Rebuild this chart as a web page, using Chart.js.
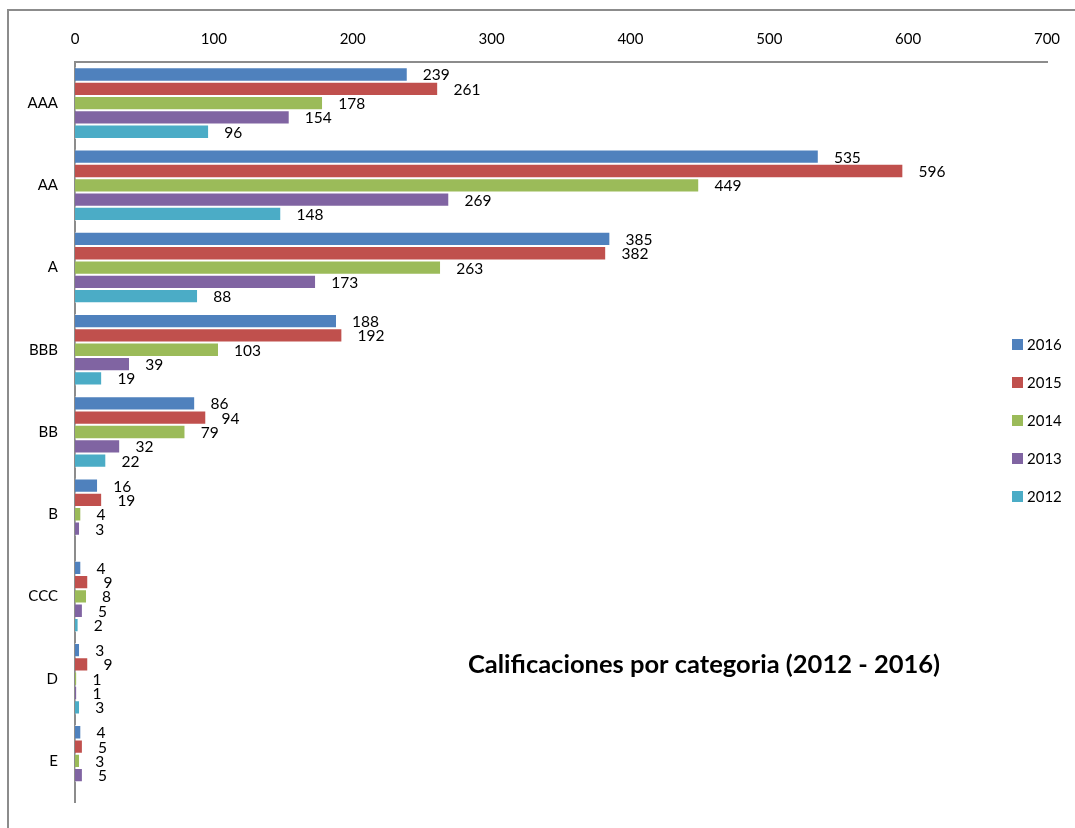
<!DOCTYPE html>
<html>
<head>
<meta charset="utf-8">
<script src="https://cdn.jsdelivr.net/npm/chart.js@4/dist/chart.umd.min.js"></script>
<style>
  html, body { margin: 0; padding: 0; background: #fff; overflow: hidden; }
  #frame {
    position: absolute; left: 7px; top: 9px; width: 1100px; height: 840px;
    border-left: 2px solid #8c8c8c; border-top: 2px solid #8c8c8c;
  }
  #wrap { position: absolute; left: 0; top: 0; width: 1075px; height: 828px; }
</style>
</head>
<body>
<div id="frame"></div>
<div id="wrap"><canvas id="ratingsChart" width="1075" height="828"></canvas></div>
<script>
/* ===== DATA ===== */
const categories = ['AAA', 'AA', 'A', 'BBB', 'BB', 'B', 'CCC', 'D', 'E'];
const years = ['2016', '2015', '2014', '2013', '2012'];
const colors = ['#4F81BD', '#C0504D', '#9BBB59', '#8064A2', '#4BACC6'];

const values2016 = [239, 535, 385, 188, 86, 16, 4, 3, 4];
const values2015 = [261, 596, 382, 192, 94, 19, 9, 9, 5];
const values2014 = [178, 449, 263, 103, 79, 4, 8, 1, 3];
const values2013 = [154, 269, 173, 39, 32, 3, 5, 1, 5];
const values2012 = [96, 148, 88, 19, 22, null, 2, 3, null];

const xTicks = [0, 100, 200, 300, 400, 500, 600, 700];
const chartTitle = 'Calificaciones por categoria (2012 - 2016)';

const seriesValues = [values2016, values2015, values2014, values2013, values2012];
const FONT = 'Lato, "Liberation Sans", sans-serif';

// Value labels drawn just past the end of every bar
const valueLabels = {
    id: 'valueLabels',
    afterDatasetsDraw(chart) {
        const ctx = chart.ctx;
        ctx.save();
        ctx.font = '15.5px ' + FONT;
        ctx.fillStyle = '#000';
        ctx.textAlign = 'left';
        ctx.textBaseline = 'middle';
        chart.data.datasets.forEach((ds, i) => {
            const meta = chart.getDatasetMeta(i);
            meta.data.forEach((bar, j) => {
                const v = ds.data[j];
                if (v === null || v === undefined) return;
                ctx.fillText(String(v), bar.x + 16, bar.y + 1);
            });
        });
        ctx.restore();
    }
};

// Title sits inside the plot area, legend floats on the right edge
const titleAndLegend = {
    id: 'titleAndLegend',
    afterDraw(chart) {
        const ctx = chart.ctx;
        const area = chart.chartArea;
        ctx.save();
        ctx.font = 'bold 25.5px ' + FONT;
        ctx.fillStyle = '#000';
        ctx.textAlign = 'center';
        ctx.textBaseline = 'middle';
        ctx.fillText(chartTitle, 704, area.top + 603);

        ctx.font = '15px ' + FONT;
        ctx.textAlign = 'left';
        chart.data.datasets.forEach((ds, i) => {
            const y = 345 + i * 38;
            ctx.fillStyle = ds.backgroundColor;
            ctx.fillRect(1012, y - 6, 11, 11);
            ctx.fillStyle = '#000';
            ctx.fillText(ds.label, 1027, y);
        });
        ctx.restore();
    }
};

const datasets = years.map((year, i) => ({
    label: year,
    data: seriesValues[i],
    backgroundColor: colors[i],
    borderColor: 'rgba(255,255,255,0.6)',
    borderWidth: { top: 1, bottom: 1, left: 0, right: 0 },
    categoryPercentage: 0.87,
    barPercentage: 1.0
}));

const canvas = document.getElementById('ratingsChart');
new Chart(canvas.getContext('2d'), {
    type: 'bar',
    data: { labels: categories, datasets: datasets },
    options: {
        indexAxis: 'y',
        responsive: false,
        animation: false,
        layout: { padding: { top: 0, left: 20, right: 28, bottom: 26 } },
        scales: {
            x: {
                position: 'top',
                min: 0,
                max: 700,
                afterBuildTicks: (scale) => { scale.ticks = xTicks.map(v => ({ value: v })); },
                afterFit: (scale) => { scale.height = 62; },
                grid: { display: false, drawTicks: false },
                border: { display: true, color: '#8c8c8c', width: 2 },
                ticks: {
                    padding: 14,
                    color: '#000',
                    font: { family: FONT, size: 15 }
                }
            },
            y: {
                afterFit: (scale) => { scale.width = 55; },
                grid: { display: false, drawTicks: false },
                border: { display: true, color: '#8c8c8c', width: 2 },
                ticks: {
                    padding: 17,
                    color: '#000',
                    font: { family: FONT, size: 15 }
                }
            }
        },
        plugins: {
            legend: { display: false },
            title: { display: false },
            tooltip: { enabled: false }
        }
    },
    plugins: [valueLabels, titleAndLegend]
});
</script>
</body>
</html>
